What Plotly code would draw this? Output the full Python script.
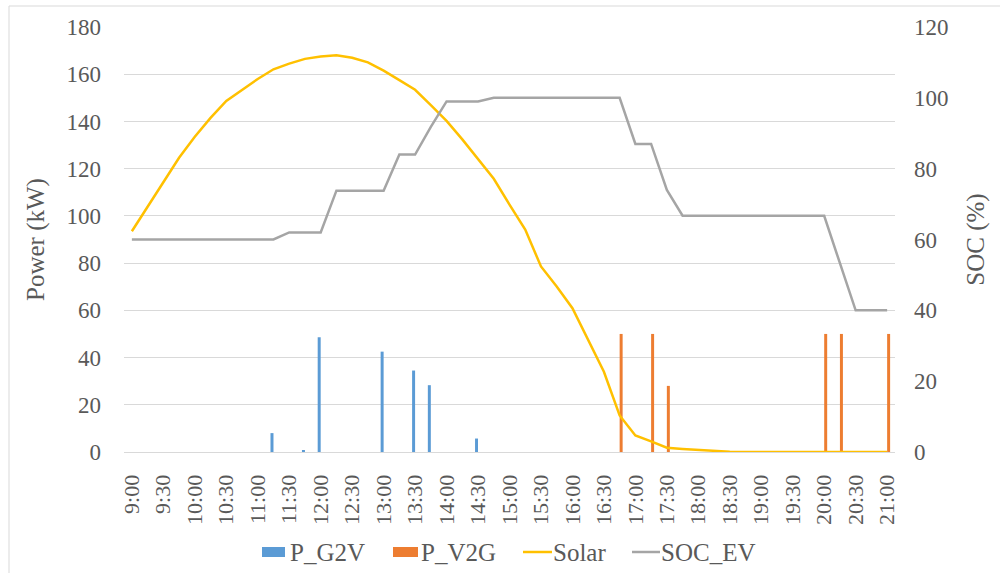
import plotly.graph_objects as go

# 15-minute time slots from 9:00 to 21:00
times = [f"{h}:{m:02d}" for h in range(9, 22) for m in (0, 15, 30, 45)][:49]
tick_labels = times[::2]

# Grid-to-vehicle charging power (kW)
p_g2v = [0, 0, 0, 0, 0, 0, 0, 0, 0, 8.0,
         0, 0.5, 48.6, 0, 0, 0, 42.5, 0, 34.5, 28.3,
         0, 0, 5.7, 0, 0, 0, 0, 0, 0, 0,
         0, 0, 0, 0, 0, 0, 0, 0, 0, 0,
         0, 0, 0, 0, 0, 0, 0, 0, 0]

# Vehicle-to-grid discharging power (kW)
p_v2g = [0, 0, 0, 0, 0, 0, 0, 0, 0, 0,
         0, 0, 0, 0, 0, 0, 0, 0, 0, 0,
         0, 0, 0, 0, 0, 0, 0, 0, 0, 0,
         0, 50, 0, 50, 28, 0, 0, 0, 0, 0,
         0, 0, 0, 0, 50, 50, 0, 0, 50]

# PV generation (kW)
solar = [93.5, 104, 114.5, 124.6, 133.5, 141.5, 148.7, 153.5, 158, 162.1,
         164.5, 166.5, 167.5, 168, 167, 165, 161.5, 157.5, 153.4, 146.9,
         140.2, 132.4, 123.9, 115.7, 104.8, 94.2, 78.6, 70.1, 60.9, 47.5,
         34, 15.5, 7, 4.5, 1.8, 1.3, 0.8, 0.4, 0.1, 0,
         0, 0, 0, 0, 0, 0, 0, 0, 0]

# EV state of charge (%)
soc_ev = [60, 60, 60, 60, 60, 60, 60, 60, 60, 60,
          62, 62, 62, 73.8, 73.8, 73.8, 73.8, 84, 84, 91.8,
          99, 99, 99, 100, 100, 100, 100, 100, 100, 100,
          100, 100, 87, 87, 74, 66.7, 66.7, 66.7, 66.7, 66.7,
          66.7, 66.7, 66.7, 66.7, 66.7, 53.3, 40, 40, 40]

series_names = ["P_G2V", "P_V2G", "Solar", "SOC_EV"]

FONT = "Liberation Serif, Times New Roman, serif"
TXT = "#595959"
GRID = "#d9d9d9"
BLUE, ORANGE, GOLD, GREY = "#5B9BD5", "#ED7D31", "#FFC000", "#A5A5A5"

fig = go.Figure()
fig.add_trace(go.Bar(x=times, y=p_g2v, name=series_names[0],
                     marker=dict(color=BLUE, line=dict(width=0))))
fig.add_trace(go.Bar(x=times, y=p_v2g, name=series_names[1],
                     marker=dict(color=ORANGE, line=dict(width=0))))
fig.add_trace(go.Scatter(x=times, y=solar, name=series_names[2], mode="lines",
                         line=dict(color=GOLD, width=2.5)))
fig.add_trace(go.Scatter(x=times, y=soc_ev, name=series_names[3], mode="lines",
                         line=dict(color=GREY, width=2.5), yaxis="y2"))

L, R, T, B = 124, 105, 27, 121
W, H = 1000, 573
pw = W - L - R
ph = H - T - B


def px(x):
    """pixel column -> paper x"""
    return (x - L) / pw


def py(y):
    """pixel row -> paper y"""
    return (T + ph - y) / ph


# hand-placed legend row under the axis labels
LEG_Y = 552
legend_items = [  # (swatch kind, colour, swatch x0, swatch x1, text x)
    ("rect", BLUE, 262, 285, 288),
    ("rect", ORANGE, 393, 418, 419),
    ("line", GOLD, 523, 552, 551),
    ("line", GREY, 632, 660, 659),
]
shapes = [dict(type="rect", xref="paper", yref="paper",
               x0=px(9), x1=px(1010), y0=py(590), y1=py(6),
               line=dict(color=GRID, width=1), fillcolor="rgba(0,0,0,0)",
               layer="below")]
annotations = []
for name, (kind, col, x0, x1, tx) in zip(series_names, legend_items):
    if kind == "rect":
        shapes.append(dict(type="rect", xref="paper", yref="paper",
                           x0=px(x0), x1=px(x1), y0=py(LEG_Y + 5),
                           y1=py(LEG_Y - 5), fillcolor=col,
                           line=dict(width=0)))
    else:
        shapes.append(dict(type="line", xref="paper", yref="paper",
                           x0=px(x0), x1=px(x1), y0=py(LEG_Y), y1=py(LEG_Y),
                           line=dict(color=col, width=2.5)))
    annotations.append(dict(text=name, xref="paper", yref="paper",
                            x=px(tx), y=py(LEG_Y), xanchor="left",
                            yanchor="middle", showarrow=False,
                            font=dict(size=25, color=TXT, family=FONT)))

fig.update_layout(
    width=W, height=H,
    margin=dict(l=L, r=R, t=T, b=B, autoexpand=False),
    paper_bgcolor="white", plot_bgcolor="white",
    barmode="group", bargap=0.62, bargroupgap=0,
    showlegend=False,
    font=dict(family=FONT, color=TXT, size=23),
    xaxis=dict(type="category", categoryorder="array", categoryarray=times,
               range=[-0.5, 48.5], tickmode="array", tickvals=tick_labels,
               ticktext=tick_labels, tickangle=-90, showgrid=False,
               showline=True, linecolor=GRID, linewidth=1, ticks="",
               ticklabelstandoff=13, tickfont=dict(size=22), automargin=False),
    yaxis=dict(range=[0, 180], dtick=20, showgrid=True, gridcolor=GRID,
               gridwidth=1, zeroline=False, showline=False, ticks="",
               ticklabelstandoff=22, tickfont=dict(size=23), automargin=False,
               title=dict(text="Power (kW)", font=dict(size=25), standoff=14)),
    yaxis2=dict(range=[0, 120], dtick=20, overlaying="y", side="right",
                showgrid=False, zeroline=False, showline=False, ticks="",
                ticklabelstandoff=18, tickfont=dict(size=23), automargin=False,
                title=dict(text="SOC (%)", font=dict(size=25), standoff=18)),
    shapes=shapes,
    annotations=annotations,
)

fig.write_html("out.html")
